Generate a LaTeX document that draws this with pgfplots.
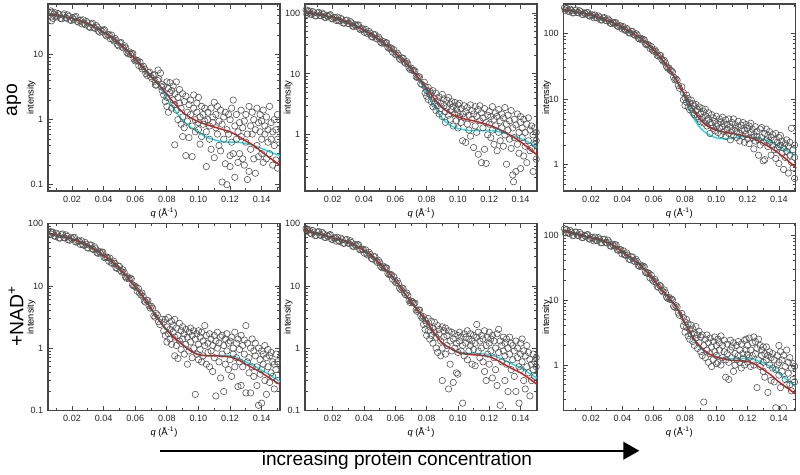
\documentclass[border=0pt]{standalone}
\usepackage{fontspec}
\setmainfont{Liberation Sans}
\setsansfont{Liberation Sans}
\usepackage{pgfplots}
\pgfplotsset{compat=1.18}
\usetikzlibrary{arrows.meta}
\definecolor{fitred}{RGB}{228,20,22}
\definecolor{fitcyan}{RGB}{30,222,228}
\definecolor{ptgray}{RGB}{85,85,85}
\definecolor{axgray}{RGB}{70,70,70}
\pgfplotsset{
  saxs/.style={
    scale only axis, width=174pt, height=140.25pt, anchor=south west,
    axis line style={axgray, line width=0.9pt},
    tick align=inside,
    tick style={axgray, line width=0.6pt},
    major tick length=3.5pt, minor tick length=2pt,
    xtick={0.02,0.04,0.06,0.08,0.10,0.12,0.14},
    minor xtick={0.01,0.03,0.05,0.07,0.09,0.11,0.13,0.15},
    xticklabel style={/pgf/number format/fixed, /pgf/number format/precision=2, /pgf/number format/fixed zerofill},
    ticklabel style={font=\fontsize{6.8}{7}\selectfont, text=black!85},
    xlabel={\textit{q} (Å\textsuperscript{-1})},
    ylabel={intensity},
    every axis x label/.style={at={(rel axis cs:0.5,0)}, anchor=center, yshift=-16.5pt, font=\fontsize{7}{8}\selectfont},
    every axis y label/.style={at={(rel axis cs:-0.072,0.5)}, rotate=90, anchor=center, font=\fontsize{7}{8}\selectfont},
  },
  scat/.style={only marks, mark=o, mark size=2.4pt, mark options={ptgray, line width=0.45pt}},
  redfit/.style={no marks, smooth, fitred, line width=1.1pt},
  cyanfit/.style={no marks, smooth, fitcyan, line width=1.1pt},
}
\begin{document}
\begin{tikzpicture}
\path[use as bounding box] (0,0) rectangle (600pt,356.25pt);

% ---------- apo, low concentration ----------
\begin{axis}[saxs, ymode=log, log ticks with fixed point, /pgf/number format/assume math mode=true, at={(36pt,213pt)}, xmin=0.0048, xmax=0.1516, ymin=0.08, ymax=60]
\addplot[scat] coordinates {
(0.0065,47) (0.007,33) (0.0072,38) (0.0075,44) (0.008,36) (0.0085,42) (0.009,44.5) (0.0105,37.9) (0.012,40.8) (0.0135,35.4) (0.015,42.4) (0.0165,36.2) (0.018,38.9) (0.0195,33.4) (0.021,35) (0.0225,38.6) (0.024,31.6) (0.0255,34) (0.027,34.3) (0.0285,28.7) (0.03,30.6) (0.0315,25.9) (0.033,30.4) (0.0345,25.3) (0.036,26.5) (0.0375,22.1) (0.039,22.6) (0.0405,24.2) (0.042,19.3) (0.0435,20.3) (0.045,20) (0.0465,16.2) (0.048,16.5) (0.0495,13.6) (0.051,15.4) (0.0525,12.6) (0.054,12.7) (0.0555,10.3) (0.057,10.1) (0.0585,10.4) (0.06,8) (0.0615,8.1) (0.063,7.7) (0.0645,6) (0.066,6) (0.0675,4.8) (0.069,5.4) (0.0705,4.3) (0.072,4.9) (0.0735,3.4) (0.075,4.25) (0.0745,5.8) (0.076,5.2) (0.0765,3.2) (0.0725,3.9)
(0.077,3.5) (0.077,2.8) (0.078,2.4) (0.078,3.3) (0.079,1.9) (0.08,3.8) (0.08,2.2) (0.08,1.6) (0.081,3.0) (0.081,1.3) (0.082,3.7) (0.082,2.6) (0.083,1.5) (0.083,2.8) (0.084,3.3) (0.084,2.0) (0.085,0.41) (0.085,1.7) (0.085,2.5) (0.086,3.8) (0.086,1.4) (0.087,2.2) (0.087,1.0) (0.088,1.8) (0.088,2.9) (0.089,0.85) (0.089,1.5) (0.09,2.5) (0.09,1.1) (0.09,0.55) (0.091,1.9) (0.091,0.75) (0.092,2.3) (0.092,0.28) (0.093,1.3) (0.093,0.95) (0.094,0.53) (0.094,1.7) (0.095,2.0) (0.095,1.2) (0.096,0.8) (0.096,0.27) (0.097,1.5) (0.097,2.4) (0.098,1.0) (0.098,0.65) (0.099,1.8) (0.099,1.3) (0.1,0.7) (0.1,2.2) (0.1,0.9) (0.101,1.1) (0.101,0.42) (0.102,1.6) (0.102,0.55) (0.103,1.2) (0.103,0.85) (0.104,0.95) (0.104,1.5) (0.105,0.65) (0.105,0.19) (0.106,1.3) (0.106,1.0) (0.107,0.5) (0.107,0.8) (0.108,1.5) (0.108,0.35) (0.109,0.9) (0.109,1.1) (0.11,0.26) (0.11,1.85) (0.111,0.75) (0.111,1.2) (0.112,0.6) (0.112,1.6) (0.113,0.4) (0.113,0.95) (0.114,1.4) (0.114,0.33) (0.115,0.11) (0.115,0.85) (0.116,1.1) (0.116,0.5) (0.117,0.21) (0.117,1.3) (0.118,0.7) (0.118,0.1) (0.119,1.2) (0.119,0.6) (0.12,0.28) (0.12,1.0) (0.12,0.19) (0.121,0.45) (0.121,1.5) (0.122,2.0) (0.122,0.3) (0.123,0.8) (0.123,0.13) (0.124,1.2) (0.124,0.5) (0.125,0.22) (0.125,0.65) (0.126,0.9) (0.126,0.3) (0.127,0.55) (0.127,1.4) (0.128,0.25) (0.128,0.75) (0.129,0.95) (0.129,0.2) (0.13,0.45) (0.13,1.2) (0.131,0.6) (0.131,0.12) (0.132,1.6) (0.132,0.16) (0.133,0.35) (0.133,0.8) (0.134,0.6) (0.134,1.3) (0.135,0.25) (0.135,1.0) (0.136,0.15) (0.136,0.7) (0.137,1.5) (0.137,0.4) (0.138,0.27) (0.138,0.9) (0.139,0.65) (0.139,1.2) (0.14,0.3) (0.14,0.5) (0.14,0.95) (0.141,1.4) (0.141,0.22) (0.142,0.6) (0.142,0.8) (0.143,0.25) (0.143,1.1) (0.144,0.45) (0.144,0.7) (0.145,1.6) (0.145,0.3) (0.146,0.5) (0.146,0.9) (0.147,0.2) (0.147,0.65) (0.148,1.0) (0.148,0.4) (0.149,0.7) (0.149,0.24) (0.15,1.2) (0.15,0.5) (0.15,0.18)
};
\addplot[scat] coordinates {
(0.00975,39.4) (0.01125,42.8) (0.01275,36.1) (0.01425,40.5) (0.01575,37) (0.01725,40.8) (0.01875,34.1) (0.02025,37) (0.02175,37.5) (0.02325,32.4) (0.02475,33.5) (0.02625,29.7) (0.02775,30.1) (0.02925,32.3) (0.03075,26.8) (0.03225,29.3) (0.03375,26.2) (0.03525,28.1) (0.03675,22.9) (0.03825,24.1) (0.03975,23.8) (0.04125,20) (0.04275,20.2) (0.04425,17.5) (0.04575,17.2) (0.04725,17.8) (0.04875,14.2) (0.05025,15.1) (0.05175,13.1) (0.05325,13.7) (0.05475,10.8) (0.05625,11) (0.05775,10.4) (0.05925,8.5) (0.06075,8.2) (0.06225,6.8) (0.06375,6.5) (0.06525,6.6) (0.06675,5.1) (0.06825,5.3) (0.06975,4.6) (0.07125,4.8) (0.07275,3.4) (0.07425,4.0)
};
\addplot[cyanfit] coordinates {(0.06,8.5) (0.065,6.3) (0.07,4.6) (0.075,3.4) (0.08,2.1) (0.085,1.4) (0.09,0.98) (0.095,0.77) (0.1,0.64) (0.105,0.54) (0.11,0.49) (0.115,0.46) (0.12,0.45) (0.125,0.45) (0.13,0.43) (0.135,0.4) (0.14,0.36) (0.145,0.32) (0.1516,0.28)};
\addplot[redfit] coordinates {(0.006,42) (0.01,41) (0.015,38.5) (0.02,36) (0.025,33) (0.03,30) (0.035,26) (0.04,22) (0.045,18.5) (0.05,14.7) (0.055,11.5) (0.06,8.5) (0.065,6.3) (0.07,4.6) (0.075,3.4) (0.08,2.45) (0.085,1.75) (0.09,1.3) (0.095,1.07) (0.1,0.93) (0.105,0.84) (0.11,0.77) (0.115,0.71) (0.12,0.65) (0.125,0.56) (0.13,0.47) (0.135,0.4) (0.14,0.32) (0.145,0.26) (0.1516,0.2)};
\end{axis}

% ---------- apo, middle concentration ----------
\begin{axis}[saxs, ymode=log, log ticks with fixed point, /pgf/number format/assume math mode=true, at={(228.75pt,213pt)}, xmin=0.0023, xmax=0.1505, ymin=0.12, ymax=140]
\addplot[scat] coordinates {
(0.003,112) (0.0035,95) (0.004,108) (0.0045,100) (0.005,108) (0.0065,94.7) (0.008,100) (0.0095,89.7) (0.011,102) (0.0125,90.2) (0.014,94.8) (0.0155,84) (0.017,87.6) (0.0185,93.5) (0.02,79.8) (0.0215,84.4) (0.023,85.4) (0.0245,73.8) (0.026,76.9) (0.0275,67.9) (0.029,76.2) (0.0305,66.2) (0.032,68.4) (0.0335,59.6) (0.035,61) (0.0365,63.5) (0.038,52.8) (0.0395,54.5) (0.041,53.9) (0.0425,45.6) (0.044,46.5) (0.0455,40.2) (0.047,44.1) (0.0485,37.2) (0.05,37.4) (0.0515,31.9) (0.053,31.8) (0.0545,32.4) (0.056,26.2) (0.0575,26.3) (0.059,25) (0.0605,20.4) (0.062,20.3) (0.0635,17) (0.065,18.1) (0.0665,14.9) (0.068,14.6) (0.0695,11.8) (0.071,11.4) (0.0725,11.2) (0.074,8.7) (0.0755,8.9) (0.077,6.7) (0.0785,7.3)
(0.079,6.2) (0.079,4.9) (0.08,5.4) (0.08,4.3) (0.081,6.0) (0.081,3.8) (0.082,4.6) (0.082,5.2) (0.083,3.5) (0.083,4.8) (0.084,5.3) (0.084,2.9) (0.085,4.0) (0.085,3.2) (0.086,4.8) (0.086,2.5) (0.087,3.6) (0.087,3.0) (0.088,2.2) (0.088,4.2) (0.089,3.3) (0.089,2.7) (0.09,4.6) (0.09,2.0) (0.091,3.0) (0.091,3.9) (0.092,2.4) (0.092,1.6) (0.093,3.7) (0.093,2.8) (0.094,2.1) (0.094,4.1) (0.095,3.2) (0.095,1.8) (0.096,2.6) (0.096,3.5) (0.097,1.4) (0.097,2.9) (0.098,3.4) (0.098,2.2) (0.099,1.7) (0.099,2.6) (0.1,3.1) (0.1,1.3) (0.1,2.3) (0.101,2.0) (0.101,3.3) (0.102,2.7) (0.102,1.6) (0.103,0.8) (0.103,2.2) (0.104,3.0) (0.104,1.9) (0.105,2.4) (0.105,0.75) (0.106,1.5) (0.106,2.8) (0.107,2.1) (0.107,1.2) (0.108,3.1) (0.108,0.95) (0.109,1.8) (0.109,2.5) (0.11,0.62) (0.11,2.2) (0.111,1.4) (0.111,2.9) (0.112,2.0) (0.112,1.1) (0.113,2.6) (0.113,0.48) (0.114,1.7) (0.114,3.0) (0.115,0.35) (0.115,2.3) (0.116,1.3) (0.116,1.9) (0.117,2.7) (0.117,0.58) (0.118,0.34) (0.118,1.6) (0.119,2.1) (0.119,1.0) (0.12,1.5) (0.12,2.4) (0.121,0.9) (0.121,2.0) (0.122,2.9) (0.122,1.2) (0.123,0.7) (0.123,1.8) (0.124,2.3) (0.124,1.4) (0.125,0.55) (0.125,2.0) (0.126,1.1) (0.126,2.6) (0.127,1.7) (0.127,0.8) (0.128,2.2) (0.128,1.3) (0.129,0.65) (0.129,1.9) (0.13,2.8) (0.13,1.0) (0.131,1.5) (0.131,0.33) (0.132,2.1) (0.132,1.2) (0.133,0.85) (0.133,1.7) (0.134,2.5) (0.134,0.6) (0.135,1.3) (0.135,0.22) (0.1355,0.17) (0.136,1.8) (0.136,0.9) (0.137,0.25) (0.137,1.45) (0.138,2.2) (0.138,0.7) (0.139,1.1) (0.139,0.5) (0.14,1.6) (0.14,0.28) (0.14,2.0) (0.141,0.9) (0.141,1.3) (0.142,0.45) (0.142,1.8) (0.143,1.1) (0.143,0.65) (0.144,1.5) (0.144,0.35) (0.145,0.8) (0.145,1.9) (0.146,1.2) (0.146,0.55) (0.147,0.6) (0.147,1.4) (0.148,0.25) (0.148,1.0) (0.149,1.3) (0.149,0.7) (0.15,0.4) (0.15,1.1) (0.15,0.8)
};
\addplot[scat] coordinates {
(0.00575,95.4) (0.00725,104.9) (0.00875,89.6) (0.01025,99.5) (0.01175,91.1) (0.01325,99.5) (0.01475,84.9) (0.01625,91.2) (0.01775,91.9) (0.01925,80.7) (0.02075,83.8) (0.02225,75.2) (0.02375,74.9) (0.02525,81.2) (0.02675,68.3) (0.02825,74.7) (0.02975,67.3) (0.03125,72.4) (0.03275,60.7) (0.03425,64.1) (0.03575,63.3) (0.03725,54.2) (0.03875,54.8) (0.04025,48) (0.04175,46.7) (0.04325,49.6) (0.04475,40.8) (0.04625,43.7) (0.04775,38.4) (0.04925,40.2) (0.05075,32.9) (0.05225,33.9) (0.05375,32.6) (0.05525,27.3) (0.05675,26.9) (0.05825,22.8) (0.05975,21.3) (0.06125,21.9) (0.06275,17.6) (0.06425,18.2) (0.06575,15.6) (0.06725,15.9) (0.06875,12.5) (0.07025,12.4) (0.07175,11.4) (0.07325,9) (0.07475,9) (0.07625,6.9)
};
\addplot[cyanfit] coordinates {(0.065,16.8) (0.07,12.2) (0.075,8.2) (0.08,4.8) (0.085,2.9) (0.09,1.86) (0.095,1.44) (0.1,1.27) (0.105,1.2) (0.11,1.17) (0.115,1.17) (0.12,1.18) (0.125,1.14) (0.13,1.06) (0.135,0.97) (0.14,0.87) (0.145,0.76) (0.1505,0.63)};
\addplot[redfit] coordinates {(0.0025,104) (0.005,101) (0.01,96) (0.015,90) (0.02,84) (0.025,77) (0.03,69) (0.035,61) (0.04,52) (0.045,44) (0.05,36) (0.055,29) (0.06,22) (0.065,16.8) (0.07,12.2) (0.075,8.4) (0.08,5.8) (0.085,3.9) (0.09,2.8) (0.095,2.25) (0.1,1.97) (0.105,1.8) (0.11,1.7) (0.115,1.58) (0.12,1.44) (0.125,1.28) (0.13,1.1) (0.135,0.93) (0.14,0.77) (0.145,0.61) (0.1505,0.47)};
\end{axis}

% ---------- apo, high concentration ----------
\begin{axis}[saxs, ymode=log, log ticks with fixed point, /pgf/number format/assume math mode=true, at={(422.5pt,213pt)}, xmin=0.0023, xmax=0.1505, ymin=0.4, ymax=280]
\addplot[scat] coordinates {
(0.003,245) (0.0035,225) (0.004,238) (0.0045,240) (0.006,214) (0.0075,224) (0.009,206) (0.0105,227) (0.012,206) (0.0135,213) (0.015,193) (0.0165,199) (0.018,207) (0.0195,183) (0.021,191) (0.0225,191) (0.024,171) (0.0255,177) (0.027,160) (0.0285,174) (0.03,156) (0.0315,159) (0.033,141) (0.0345,143) (0.036,145) (0.0375,127) (0.039,130) (0.0405,127) (0.042,111) (0.0435,113) (0.045,101) (0.0465,107) (0.048,94) (0.0495,94) (0.051,82) (0.0525,80) (0.054,79.5) (0.0555,67) (0.057,66) (0.0585,63) (0.06,53.5) (0.0615,52.6) (0.063,45) (0.0645,46) (0.066,37.7) (0.0675,35.7) (0.069,29.5) (0.0705,27.5) (0.072,26) (0.0735,19.7) (0.075,19.4) (0.0765,14.6) (0.078,15.4)
(0.079,12.5) (0.079,9.8) (0.08,10.5) (0.08,8.0) (0.081,11.5) (0.081,9.0) (0.082,7.6) (0.082,10.2) (0.083,8.8) (0.083,6.9) (0.084,9.6) (0.084,7.3) (0.085,6.2) (0.085,8.5) (0.086,7.8) (0.086,5.8) (0.087,6.6) (0.087,8.3) (0.088,5.4) (0.088,7.0) (0.089,7.6) (0.089,5.0) (0.09,6.0) (0.09,4.5) (0.091,7.2) (0.091,5.2) (0.092,4.3) (0.092,6.4) (0.093,5.6) (0.093,7.0) (0.094,4.8) (0.094,3.9) (0.095,6.2) (0.095,5.0) (0.096,3.0) (0.096,4.4) (0.097,5.8) (0.097,4.1) (0.098,3.6) (0.098,5.2) (0.099,4.6) (0.099,3.3) (0.1,5.5) (0.1,3.9) (0.101,4.2) (0.101,3.1) (0.102,5.0) (0.102,3.6) (0.103,2.9) (0.103,4.5) (0.104,3.8) (0.104,5.3) (0.105,3.2) (0.105,4.2) (0.106,4.8) (0.106,2.7) (0.107,3.5) (0.107,4.1) (0.108,5.0) (0.108,3.0) (0.109,3.8) (0.109,2.4) (0.11,4.4) (0.11,3.3) (0.111,2.8) (0.111,5.0) (0.112,3.6) (0.112,4.1) (0.113,2.6) (0.113,3.2) (0.114,4.6) (0.114,3.8) (0.115,3.0) (0.115,2.3) (0.116,4.0) (0.116,3.4) (0.117,2.7) (0.117,4.4) (0.118,3.3) (0.118,2.2) (0.119,4.1) (0.119,2.9) (0.12,3.6) (0.12,2.5) (0.121,2.1) (0.121,3.9) (0.122,3.1) (0.122,4.3) (0.123,2.6) (0.123,3.5) (0.124,1.75) (0.124,2.9) (0.125,3.8) (0.125,2.3) (0.126,2.7) (0.126,3.2) (0.127,1.4) (0.127,2.4) (0.128,3.5) (0.128,2.0) (0.129,2.6) (0.129,3.7) (0.13,1.15) (0.13,2.2) (0.131,3.0) (0.131,1.2) (0.132,2.4) (0.132,3.5) (0.133,1.9) (0.133,2.8) (0.134,3.2) (0.134,2.2) (0.135,1.4) (0.135,2.6) (0.136,2.9) (0.136,2.0) (0.137,1.7) (0.137,2.4) (0.138,3.0) (0.138,1.25) (0.139,2.2) (0.139,1.8) (0.14,2.6) (0.14,1.05) (0.14,1.9) (0.141,2.0) (0.141,2.8) (0.142,1.5) (0.142,2.3) (0.143,0.85) (0.143,1.8) (0.144,2.1) (0.144,1.3) (0.145,1.6) (0.145,2.4) (0.146,0.75) (0.146,1.9) (0.147,1.4) (0.147,2.2) (0.148,3.6) (0.148,1.1) (0.149,1.7) (0.149,0.9) (0.15,1.3) (0.15,0.62) (0.15,2.0)
};
\addplot[scat] coordinates {
(0.00525,219) (0.00675,233) (0.00825,205) (0.00975,222) (0.01125,208) (0.01275,221) (0.01425,195) (0.01575,205) (0.01725,207) (0.01875,185) (0.02025,191) (0.02175,173) (0.02325,175) (0.02475,184) (0.02625,160) (0.02775,171) (0.02925,158) (0.03075,166) (0.03225,143) (0.03375,148) (0.03525,147) (0.03675,129) (0.03825,131) (0.03975,117) (0.04125,115) (0.04275,119) (0.04425,102) (0.04575,107) (0.04725,96.5) (0.04875,99) (0.05025,84) (0.05175,84.7) (0.05325,81.4) (0.05475,69.6) (0.05625,68.2) (0.05775,58.8) (0.05925,56.1) (0.06075,56.3) (0.06225,46.5) (0.06375,46.8) (0.06525,40.2) (0.06675,38.8) (0.06825,31.2) (0.06975,29.8) (0.07125,27) (0.07275,21.6) (0.07425,20.3) (0.07575,16.2)
};
\addplot[cyanfit] coordinates {(0.065,41) (0.07,28.5) (0.075,18.3) (0.08,10.5) (0.085,5.4) (0.09,3.6) (0.095,2.9) (0.1,2.57) (0.105,2.5) (0.11,2.55) (0.115,2.65) (0.12,2.65) (0.125,2.6) (0.13,2.44) (0.135,2.2) (0.14,1.88) (0.145,1.65) (0.1505,1.38)};
\addplot[redfit] coordinates {(0.0025,235) (0.005,225) (0.01,215) (0.015,203) (0.02,190) (0.025,175) (0.03,159) (0.035,141) (0.04,123) (0.045,106) (0.05,89) (0.055,72) (0.06,55.7) (0.065,41) (0.07,28.5) (0.075,18.5) (0.08,11.5) (0.085,7.0) (0.09,4.8) (0.095,3.8) (0.1,3.37) (0.105,3.15) (0.11,3.0) (0.115,2.85) (0.12,2.67) (0.125,2.42) (0.13,2.12) (0.135,1.8) (0.14,1.49) (0.145,1.2) (0.1505,0.92)};
\end{axis}

% ---------- +NAD, low concentration ----------
\begin{axis}[saxs, ymode=log, log ticks with fixed point, /pgf/number format/assume math mode=true, at={(36pt,48.375pt)}, xmin=0.0048, xmax=0.1516, ymin=0.099, ymax=101]
\addplot[scat] coordinates {
(0.0065,75) (0.007,68) (0.0075,72) (0.008,72.8) (0.0095,62.5) (0.011,66.5) (0.0125,58.9) (0.014,68.5) (0.0155,59) (0.017,62.4) (0.0185,54.4) (0.02,57) (0.0215,60.7) (0.023,50.7) (0.0245,53.1) (0.026,53.3) (0.0275,45) (0.029,46.9) (0.0305,40.6) (0.032,45.8) (0.0335,38.4) (0.035,39.5) (0.0365,33.4) (0.038,33.8) (0.0395,34.9) (0.041,28.3) (0.0425,28.8) (0.044,28) (0.0455,22.9) (0.047,23) (0.0485,19.1) (0.05,20.7) (0.0515,16.7) (0.053,16.5) (0.0545,13.3) (0.056,13) (0.0575,13) (0.059,10) (0.0605,9.6) (0.062,9.1) (0.0635,7.2) (0.065,6.8) (0.0665,5.5) (0.068,5.8) (0.0695,4.4) (0.071,4.4) (0.0725,3.15) (0.074,3.4) (0.0755,2.4) (0.077,2.9)
(0.078,2.6) (0.078,1.9) (0.079,1.6) (0.079,2.9) (0.08,2.2) (0.08,1.25) (0.081,3.1) (0.081,1.7) (0.082,2.0) (0.082,1.4) (0.083,2.7) (0.083,1.15) (0.084,1.8) (0.084,2.3) (0.085,0.75) (0.085,1.5) (0.085,2.9) (0.086,2.1) (0.086,1.1) (0.087,1.6) (0.087,0.68) (0.088,2.5) (0.088,1.3) (0.089,0.95) (0.089,1.9) (0.09,1.4) (0.09,2.2) (0.091,0.8) (0.091,1.7) (0.092,2.0) (0.092,1.15) (0.093,0.55) (0.093,1.5) (0.094,1.8) (0.094,0.9) (0.095,1.25) (0.095,2.1) (0.096,0.7) (0.096,1.6) (0.097,1.9) (0.097,1.0) (0.098,0.18) (0.098,1.4) (0.099,1.7) (0.099,0.8) (0.1,1.15) (0.1,1.9) (0.1,0.65) (0.101,1.5) (0.101,0.95) (0.102,0.6) (0.102,1.8) (0.103,1.3) (0.103,0.75) (0.104,2.3) (0.104,1.1) (0.105,0.55) (0.105,1.6) (0.106,1.2) (0.106,0.85) (0.107,1.7) (0.107,0.5) (0.108,0.9) (0.108,1.4) (0.109,0.42) (0.109,1.1) (0.11,1.6) (0.11,0.7) (0.111,0.17) (0.111,1.3) (0.112,1.0) (0.112,1.8) (0.113,0.6) (0.113,1.2) (0.114,1.5) (0.114,0.33) (0.115,0.8) (0.115,1.6) (0.116,0.2) (0.116,1.1) (0.117,1.4) (0.117,0.55) (0.118,0.9) (0.118,1.7) (0.119,0.45) (0.119,1.2) (0.12,1.3) (0.12,0.65) (0.121,0.35) (0.121,1.5) (0.122,1.0) (0.122,0.8) (0.123,1.8) (0.123,0.5) (0.124,0.7) (0.124,1.2) (0.125,0.24) (0.125,1.4) (0.126,0.95) (0.126,0.6) (0.127,1.6) (0.127,0.25) (0.128,0.5) (0.128,1.1) (0.129,0.8) (0.129,1.35) (0.13,0.19) (0.13,2.3) (0.131,1.2) (0.131,0.6) (0.132,0.7) (0.132,0.4) (0.133,1.0) (0.133,0.19) (0.134,1.4) (0.134,0.5) (0.135,0.35) (0.135,0.9) (0.136,0.75) (0.136,1.2) (0.137,0.25) (0.137,0.5) (0.138,0.12) (0.138,1.0) (0.139,0.65) (0.139,0.38) (0.14,0.13) (0.14,0.9) (0.14,0.45) (0.141,0.8) (0.141,0.55) (0.142,0.3) (0.142,1.1) (0.143,0.7) (0.143,0.18) (0.144,0.5) (0.144,0.95) (0.145,0.28) (0.145,0.75) (0.146,0.85) (0.146,0.4) (0.147,0.35) (0.147,0.6) (0.148,0.55) (0.148,0.22) (0.149,0.45) (0.149,0.8) (0.15,0.6) (0.15,0.3)
};
\addplot[scat] coordinates {
(0.00875,63.9) (0.01025,70.4) (0.01175,58.8) (0.01325,66.6) (0.01475,60.2) (0.01625,66.2) (0.01775,55.1) (0.01925,59.4) (0.02075,60) (0.02225,51) (0.02375,53) (0.02525,46.6) (0.02675,46.4) (0.02825,50.2) (0.02975,41) (0.03125,45.2) (0.03275,39.8) (0.03425,42.5) (0.03575,34.3) (0.03725,35.8) (0.03875,35) (0.04025,28.9) (0.04175,29.2) (0.04325,24.9) (0.04475,24) (0.04625,25.1) (0.04775,19.7) (0.04925,20.9) (0.05075,17.7) (0.05225,18.1) (0.05375,14) (0.05525,14) (0.05675,13.3) (0.05825,10.4) (0.05975,10) (0.06125,8.2) (0.06275,7.7) (0.06425,7.7) (0.06575,5.7) (0.06725,5.9) (0.06875,4.8) (0.07025,4.7) (0.07175,3.3) (0.07325,3.6) (0.07475,2.65)
};
\addplot[cyanfit] coordinates {(0.07,4.3) (0.075,2.8) (0.08,1.97) (0.085,1.47) (0.09,1.15) (0.095,0.92) (0.1,0.8) (0.105,0.76) (0.11,0.76) (0.115,0.76) (0.12,0.75) (0.125,0.69) (0.13,0.6) (0.135,0.52) (0.14,0.44) (0.145,0.37) (0.1516,0.29)};
\addplot[redfit] coordinates {(0.005,71) (0.01,66) (0.015,62) (0.02,57) (0.025,51) (0.03,44.8) (0.035,38) (0.04,31) (0.045,25) (0.05,19) (0.055,13.8) (0.06,9.6) (0.065,6.7) (0.07,4.3) (0.075,2.8) (0.08,1.95) (0.085,1.44) (0.09,1.13) (0.095,0.9) (0.1,0.78) (0.105,0.75) (0.11,0.75) (0.115,0.74) (0.12,0.72) (0.125,0.65) (0.13,0.55) (0.135,0.47) (0.14,0.4) (0.145,0.33) (0.1516,0.26)};
\end{axis}

% ---------- +NAD, middle concentration ----------
\begin{axis}[saxs, ymode=log, log ticks with fixed point, /pgf/number format/assume math mode=true, at={(228.75pt,48.375pt)}, xmin=0.0023, xmax=0.1505, ymin=0.099, ymax=101]
\addplot[scat] coordinates {
(0.003,84) (0.0035,76) (0.004,80) (0.005,80) (0.0065,69) (0.008,73.4) (0.0095,64.9) (0.011,75.2) (0.0125,64.8) (0.014,68.6) (0.0155,59.9) (0.017,62.6) (0.0185,66.9) (0.02,56) (0.0215,59.5) (0.023,60.6) (0.0245,52.1) (0.026,55.2) (0.0275,48.6) (0.029,56.1) (0.0305,48) (0.032,49.9) (0.0335,42.8) (0.035,44) (0.0365,46.1) (0.038,37.8) (0.0395,38.8) (0.041,38.1) (0.0425,31.5) (0.044,32) (0.0455,27) (0.047,29.5) (0.0485,23.9) (0.05,23.7) (0.0515,19.6) (0.053,19.3) (0.0545,19.4) (0.056,15.2) (0.0575,15) (0.059,14.1) (0.0605,11.2) (0.062,10.9) (0.0635,8.7) (0.065,9) (0.0665,7.2) (0.068,7) (0.0695,5.4) (0.071,5.5) (0.0725,5.3) (0.074,3.9) (0.0755,4.1) (0.077,3.05)
(0.078,3.2) (0.078,2.4) (0.079,2.0) (0.079,2.8) (0.08,1.6) (0.08,2.5) (0.081,3.0) (0.081,1.9) (0.082,2.2) (0.082,1.4) (0.083,2.7) (0.083,1.6) (0.084,1.2) (0.084,2.1) (0.085,1.8) (0.085,2.6) (0.086,1.0) (0.086,1.5) (0.087,2.3) (0.087,0.85) (0.088,1.7) (0.088,2.0) (0.089,0.75) (0.089,1.3) (0.09,2.2) (0.09,1.0) (0.09,0.3) (0.091,1.5) (0.091,1.9) (0.092,0.8) (0.092,2.1) (0.093,1.6) (0.093,1.1) (0.094,0.22) (0.094,1.9) (0.095,1.3) (0.095,0.55) (0.096,1.8) (0.096,0.9) (0.097,0.28) (0.097,1.4) (0.098,1.7) (0.098,1.0) (0.099,0.4) (0.099,1.2) (0.1,1.6) (0.1,0.85) (0.1,0.38) (0.101,1.3) (0.101,1.8) (0.102,0.9) (0.102,1.5) (0.103,0.13) (0.103,1.1) (0.104,1.7) (0.104,0.75) (0.105,1.2) (0.105,1.5) (0.106,0.65) (0.106,1.9) (0.107,1.4) (0.107,0.9) (0.108,1.7) (0.108,1.1) (0.109,0.55) (0.109,1.3) (0.11,1.6) (0.11,0.95) (0.111,0.52) (0.111,1.2) (0.112,2.4) (0.112,1.5) (0.113,0.9) (0.113,1.8) (0.114,1.3) (0.114,0.7) (0.115,1.6) (0.115,1.0) (0.116,0.6) (0.116,1.4) (0.117,1.9) (0.117,0.42) (0.118,1.1) (0.118,0.3) (0.119,1.5) (0.119,0.8) (0.12,0.55) (0.12,1.2) (0.12,1.8) (0.121,0.9) (0.121,1.4) (0.122,1.6) (0.122,0.33) (0.123,0.7) (0.123,1.3) (0.124,1.0) (0.124,0.45) (0.125,1.7) (0.125,0.25) (0.126,0.85) (0.126,2.0) (0.127,0.12) (0.127,1.3) (0.128,0.6) (0.128,1.1) (0.129,1.5) (0.129,0.9) (0.13,0.3) (0.13,0.75) (0.13,1.2) (0.131,1.4) (0.131,0.55) (0.132,0.2) (0.132,1.0) (0.133,0.8) (0.133,1.5) (0.134,0.45) (0.134,1.2) (0.135,1.1) (0.135,0.65) (0.136,0.35) (0.136,0.9) (0.137,1.3) (0.137,0.2) (0.138,0.7) (0.138,1.0) (0.139,0.5) (0.139,0.13) (0.14,1.2) (0.14,0.45) (0.14,0.8) (0.141,0.6) (0.141,1.4) (0.142,0.3) (0.142,0.9) (0.143,0.75) (0.143,0.22) (0.144,1.1) (0.144,0.5) (0.145,0.4) (0.145,0.85) (0.146,0.65) (0.146,0.17) (0.147,0.3) (0.147,0.55) (0.148,0.8) (0.148,0.45) (0.149,0.35) (0.149,0.6) (0.15,0.5) (0.15,0.7)
};
\addplot[scat] coordinates {
(0.00575,70.5) (0.00725,77.8) (0.00875,64.8) (0.01025,73.2) (0.01175,66.2) (0.01325,72.7) (0.01475,60.6) (0.01625,65.4) (0.01775,66) (0.01925,56.3) (0.02075,59) (0.02225,52.6) (0.02375,53.2) (0.02525,58.5) (0.02675,48.6) (0.02825,54.7) (0.02975,49.2) (0.03125,53.4) (0.03275,43.7) (0.03425,46.4) (0.03575,45.9) (0.03725,38.4) (0.03875,39.1) (0.04025,33.7) (0.04175,32.8) (0.04325,34.7) (0.04475,27.6) (0.04625,29.6) (0.04775,25.2) (0.04925,25.9) (0.05075,20.4) (0.05225,20.8) (0.05375,19.7) (0.05525,15.8) (0.05675,15.5) (0.05825,12.8) (0.05975,11.9) (0.06125,12.1) (0.06275,9.2) (0.06425,9.3) (0.06575,7.7) (0.06725,7.7) (0.06875,5.8) (0.07025,5.7) (0.07175,5.3) (0.07325,4.1) (0.07475,4.1) (0.07625,3.3)
};
\addplot[cyanfit] coordinates {(0.07,5.5) (0.075,3.85) (0.08,2.6) (0.085,1.7) (0.09,1.2) (0.095,1.0) (0.1,0.87) (0.105,0.83) (0.11,0.82) (0.115,0.81) (0.12,0.78) (0.125,0.72) (0.13,0.63) (0.135,0.55) (0.14,0.48) (0.145,0.4) (0.1505,0.33)};
\addplot[redfit] coordinates {(0.0025,82) (0.005,75) (0.01,70) (0.015,65) (0.02,59) (0.025,55) (0.03,50.6) (0.035,44) (0.04,37) (0.045,30) (0.05,22.8) (0.055,17) (0.06,12.3) (0.065,8.3) (0.07,5.5) (0.075,3.85) (0.08,2.67) (0.085,1.74) (0.09,1.2) (0.095,1.0) (0.1,0.85) (0.105,0.8) (0.11,0.78) (0.115,0.76) (0.12,0.73) (0.125,0.64) (0.13,0.54) (0.135,0.46) (0.14,0.4) (0.145,0.33) (0.1505,0.26)};
\end{axis}

% ---------- +NAD, high concentration ----------
\begin{axis}[saxs, ymode=log, log ticks with fixed point, /pgf/number format/assume math mode=true, at={(422.5pt,48.375pt)}, xmin=0.0023, xmax=0.1505, ymin=0.2, ymax=150]
\addplot[scat] coordinates {
(0.003,125) (0.0035,108) (0.004,120) (0.0045,121) (0.006,105) (0.0075,110) (0.009,98.6) (0.0105,111) (0.012,98) (0.0135,103) (0.015,91.2) (0.0165,95) (0.018,101) (0.0195,86.5) (0.021,91.7) (0.0225,92.8) (0.024,81.7) (0.0255,86) (0.027,76.3) (0.0285,86.4) (0.03,75.7) (0.0315,77.7) (0.033,67.1) (0.0345,68) (0.036,70.4) (0.0375,58) (0.039,59.1) (0.0405,57.2) (0.042,48.5) (0.0435,49) (0.045,41.9) (0.0465,45.9) (0.048,38.8) (0.0495,39) (0.051,32.9) (0.0525,32.3) (0.054,32.4) (0.0555,25.8) (0.057,25.6) (0.0585,24) (0.06,19.3) (0.0615,19) (0.063,15.7) (0.0645,16.3) (0.066,13.3) (0.0675,13) (0.069,10.6) (0.0705,10.2) (0.072,10.1) (0.0735,7.7) (0.075,7.8) (0.0765,5.8) (0.078,6.2)
(0.079,5.4) (0.079,4.0) (0.08,4.6) (0.08,3.2) (0.081,3.8) (0.081,5.0) (0.082,2.8) (0.082,4.3) (0.083,3.5) (0.083,2.5) (0.084,4.1) (0.084,3.0) (0.085,2.3) (0.085,3.6) (0.086,3.1) (0.086,2.0) (0.087,2.6) (0.087,3.9) (0.088,1.8) (0.088,2.9) (0.089,3.3) (0.089,2.2) (0.09,1.6) (0.09,2.7) (0.091,2.9) (0.091,1.4) (0.092,0.27) (0.092,2.0) (0.093,2.5) (0.093,1.3) (0.094,1.7) (0.094,2.9) (0.095,1.1) (0.095,2.2) (0.096,2.6) (0.096,1.5) (0.097,0.95) (0.097,1.9) (0.098,2.3) (0.098,1.2) (0.099,1.6) (0.099,2.7) (0.1,1.05) (0.1,2.0) (0.1,1.4) (0.101,2.5) (0.101,1.1) (0.102,1.7) (0.102,2.2) (0.103,1.0) (0.103,2.8) (0.104,2.0) (0.104,1.3) (0.105,1.6) (0.105,2.4) (0.106,0.65) (0.106,1.2) (0.107,2.1) (0.107,1.5) (0.108,1.1) (0.108,0.6) (0.109,2.4) (0.109,1.7) (0.11,1.3) (0.11,1.9) (0.111,0.8) (0.111,2.2) (0.112,1.5) (0.112,1.0) (0.113,2.0) (0.113,1.2) (0.114,1.4) (0.114,2.3) (0.115,1.1) (0.115,1.7) (0.116,2.1) (0.116,0.9) (0.117,1.5) (0.117,1.25) (0.118,2.4) (0.118,1.0) (0.119,1.7) (0.119,2.5) (0.12,1.1) (0.12,2.0) (0.12,1.45) (0.121,2.6) (0.121,1.3) (0.122,1.7) (0.122,0.95) (0.123,2.2) (0.123,1.4) (0.124,1.0) (0.124,2.7) (0.125,1.5) (0.125,2.3) (0.126,0.45) (0.126,1.8) (0.127,1.2) (0.127,2.5) (0.128,2.0) (0.128,0.95) (0.129,1.4) (0.129,1.7) (0.13,0.8) (0.13,1.9) (0.13,1.1) (0.131,1.5) (0.131,0.65) (0.132,1.9) (0.132,1.2) (0.133,0.38) (0.133,1.4) (0.134,1.0) (0.134,1.6) (0.135,0.58) (0.135,1.3) (0.136,0.9) (0.136,1.5) (0.137,1.2) (0.137,0.55) (0.138,0.22) (0.138,0.85) (0.139,1.4) (0.139,1.0) (0.14,0.7) (0.14,2.0) (0.14,1.1) (0.141,0.45) (0.141,1.6) (0.142,1.2) (0.142,0.8) (0.143,0.22) (0.143,1.4) (0.144,0.95) (0.144,0.6) (0.145,1.7) (0.145,0.5) (0.146,1.1) (0.146,0.75) (0.147,0.5) (0.147,1.3) (0.148,0.9) (0.148,0.4) (0.149,1.05) (0.149,0.6) (0.15,0.55) (0.15,0.95)
};
\addplot[scat] coordinates {
(0.00525,107) (0.00675,117) (0.00825,97.4) (0.00975,110) (0.01125,98.9) (0.01275,109) (0.01425,91.1) (0.01575,98.9) (0.01725,100.6) (0.01875,86.5) (0.02025,90.9) (0.02175,81.2) (0.02325,82.4) (0.02475,91.1) (0.02625,75.6) (0.02775,85) (0.02925,76.6) (0.03075,83.2) (0.03225,67.9) (0.03375,71.8) (0.03525,70.9) (0.03675,59) (0.03825,59.8) (0.03975,51.2) (0.04125,49.9) (0.04275,53) (0.04425,42.3) (0.04575,45.9) (0.04725,40) (0.04875,42.2) (0.05025,33.7) (0.05175,34.6) (0.05325,33.2) (0.05475,26.7) (0.05625,26.3) (0.05775,21.8) (0.05925,20.3) (0.06075,20.8) (0.06225,16.1) (0.06375,16.8) (0.06525,14) (0.06675,14.3) (0.06825,11.1) (0.06975,11) (0.07125,10.4) (0.07275,8) (0.07425,8.2) (0.07575,6.3)
};
\addplot[cyanfit] coordinates {(0.075,7.4) (0.08,4.4) (0.085,2.6) (0.09,1.8) (0.095,1.48) (0.1,1.35) (0.105,1.28) (0.11,1.25) (0.115,1.26) (0.12,1.27) (0.125,1.2) (0.13,1.08) (0.135,0.93) (0.14,0.74) (0.145,0.6) (0.1505,0.47)};
\addplot[redfit] coordinates {(0.0025,118) (0.005,113) (0.01,104) (0.015,97) (0.02,90) (0.025,85) (0.03,78) (0.035,67) (0.04,55) (0.045,45) (0.05,36.7) (0.055,28) (0.06,20.3) (0.065,14.5) (0.07,10.6) (0.075,7.4) (0.08,4.4) (0.085,2.7) (0.09,1.9) (0.095,1.5) (0.1,1.33) (0.105,1.24) (0.11,1.18) (0.115,1.16) (0.12,1.14) (0.125,1.02) (0.13,0.85) (0.135,0.7) (0.14,0.55) (0.145,0.45) (0.1505,0.36)};
\end{axis}

% ---------- row labels and arrow ----------
\node[rotate=90, font=\fontsize{14.5}{16}\selectfont] at (10.5pt,281.25pt) {apo};
\node[rotate=90, font=\fontsize{14.5}{16}\selectfont] at (12pt,119.25pt) {+NAD\textsuperscript{+}};
\draw[line width=1.5pt, -{Triangle[length=12pt,width=13.2pt]}] (120pt,18.2pt) -- (479.5pt,18.2pt);
\node[font=\fontsize{14.3}{16}\selectfont] at (297.75pt,10.5pt) {increasing protein concentration};
\end{tikzpicture}
\end{document}
